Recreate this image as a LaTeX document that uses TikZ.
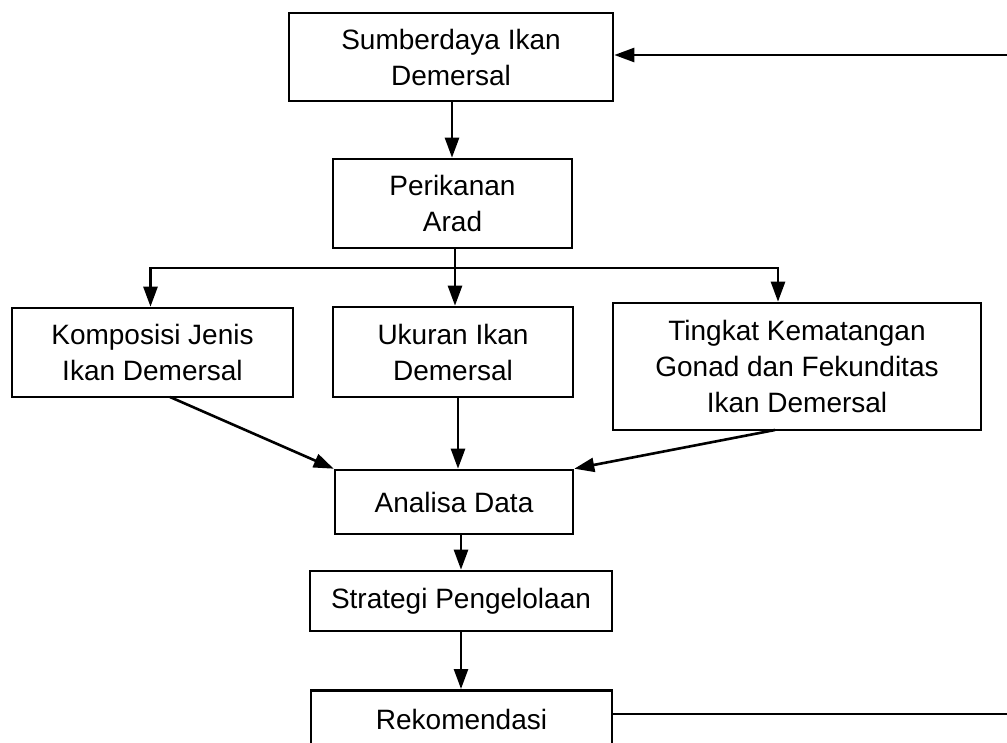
\documentclass[tikz,border=0pt]{standalone}
\usepackage{fontspec}
\setmainfont{Liberation Sans}
\usetikzlibrary{arrows.meta,calc}
\begin{document}
\begin{tikzpicture}[x=1pt,y=-1pt,
  box/.style={draw,line width=2.6pt,align=center,inner sep=0pt,
    font=\fontsize{28}{36}\selectfont},
  conn/.style={line width=2.6pt},
  arr/.style={conn,-{Triangle[length=20pt,width=14pt]}}]
\useasboundingbox (0,0) rectangle (1007,742);
\clip (0,0) rectangle (1007,742);
\node[box,minimum width=324pt,minimum height=88pt] (S) at (451,57) {Sumberdaya Ikan\\Demersal};
\node[box,minimum width=239pt,minimum height=89pt] (P) at (452.5,203.5) {Perikanan\\Arad};
\node[box,minimum width=281pt,minimum height=89pt] (K) at (152.5,352.5) {Komposisi Jenis\\Ikan Demersal};
\node[box,minimum width=240pt,minimum height=90pt] (U) at (453,352) {Ukuran Ikan\\Demersal};
\node[box,minimum width=368pt,minimum height=127pt] (T) at (797,366.5) {Tingkat Kematangan\\Gonad dan Fekunditas\\Ikan Demersal};
\node[box,minimum width=238pt,minimum height=64pt] (A) at (454,502) {Analisa Data};
\node[box,minimum width=302pt,minimum height=60pt] (St) at (461,601) {Strategi Pengelolaan};
\node[box,anchor=north,minimum width=301pt,text height=20pt,text depth=80pt,inner ysep=19pt] (R) at (461.5,689) {Rekomendasi};
\coordinate (se) at (1007,55);
\coordinate (re) at (1007,714);
\coordinate (j) at (455,268);
\coordinate (s1) at (452,101);
\coordinate (k1) at (170,397);
\coordinate (t1) at (775,430);
\coordinate (u1) at (458,397);
\coordinate (st1) at (461,631);
\draw[arr] (se) -- (S.east |- se);
\draw[arr] (s1) -- (s1 |- P.north);
\draw[arr] (j |- P.south) -- (j |- U.north);
\draw[arr] (j) -| ($(K.north)+(-2,0)$);
\draw[arr] (j) -| ($(T.north)+(-19,0)$);
\draw[arr] (k1) -- (A.north west);
\draw[arr] (u1) -- (u1 |- A.north);
\draw[arr] (t1) -- (A.north east);
\draw[arr] (A.south -| st1) -- (St.north -| st1);
\draw[arr] (st1) -- (st1 |- R.north);
\draw[conn] (R.east |- re) -- (re);
\end{tikzpicture}
\end{document}
